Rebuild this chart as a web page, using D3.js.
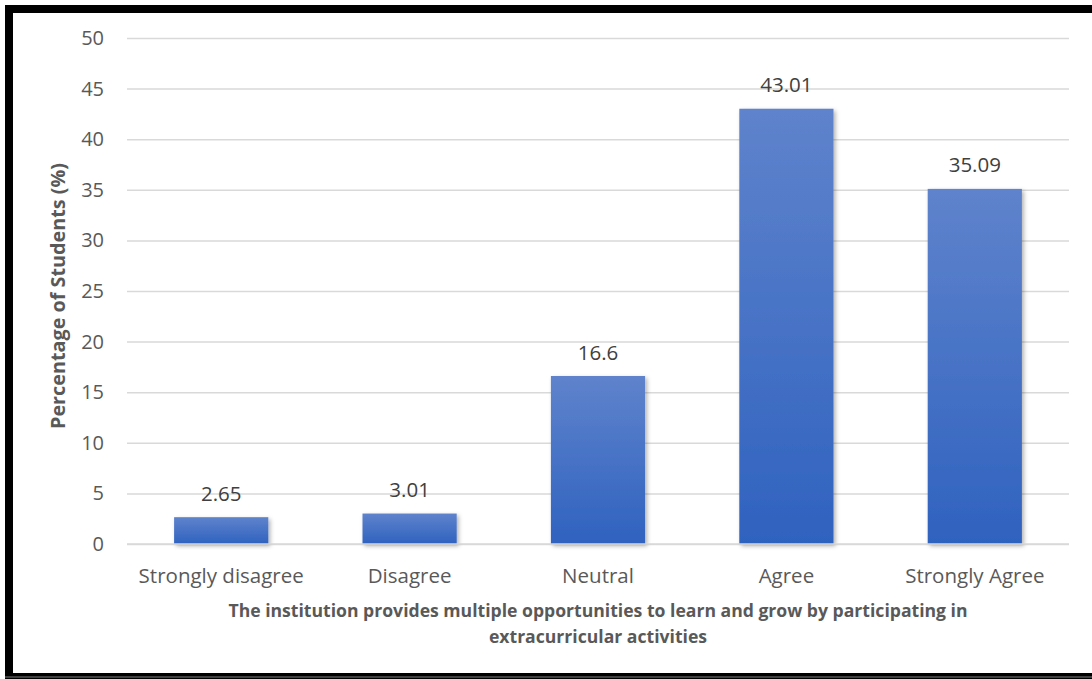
<!DOCTYPE html>
<html><head><meta charset="utf-8">
<script src="https://cdn.jsdelivr.net/npm/d3@7"></script>
<style>body{margin:0;background:#fff}svg{display:block}</style>
</head><body>
<svg id="c" width="1092" height="679"></svg>
<script>
const categories = ["Strongly disagree","Disagree","Neutral","Agree","Strongly Agree"];
const values = [2.65, 3.01, 16.6, 43.01, 35.09];
const valueLabels = ["2.65","3.01","16.6","43.01","35.09"];
const yTicks = [0,5,10,15,20,25,30,35,40,45,50];
const yTitle = "Percentage of Students (%)";
const xTitleLines = ["The institution provides multiple opportunities to learn and grow by participating in","extracurricular activities"];

const svg = d3.select("#c");
const font = "'Open Sans', sans-serif";
// frame
svg.append("rect").attr("x",0).attr("y",0).attr("width",1092).attr("height",679).attr("fill","#fff");
svg.append("rect").attr("x",9).attr("y",9).attr("width",1100).attr("height",668)
  .attr("fill","none").attr("stroke","#000").attr("stroke-width",8);
svg.append("line").attr("x1",5).attr("x2",1092).attr("y1",677).attr("y2",677).attr("stroke","#404040").attr("stroke-width",2);

const m = {l:127, r:1069, t:38, b:544};
const x = d3.scaleBand().domain(categories).range([m.l,m.r]).paddingInner(0.5).paddingOuter(0.25);
const y = d3.scaleLinear().domain([0,50]).range([m.b,m.t]);

const defs = svg.append("defs");
const g = defs.append("linearGradient").attr("id","bg").attr("x1",0).attr("y1",0).attr("x2",0).attr("y2",1);
g.append("stop").attr("offset","0%").attr("stop-color","#5f83cc");
g.append("stop").attr("offset","100%").attr("stop-color","#2f62bf");
const f = defs.append("filter").attr("id","sh").attr("x","-20%").attr("y","-20%").attr("width","140%").attr("height","140%");
f.append("feDropShadow").attr("dx",2).attr("dy",2).attr("stdDeviation",2).attr("flood-color","#000").attr("flood-opacity",0.3);

// gridlines
const yAxis = d3.axisLeft(y).tickValues(yTicks).tickSize(-(m.r-m.l)).tickPadding(23);
const ya = svg.append("g").attr("transform",`translate(${m.l},0)`).call(yAxis);
ya.select(".domain").remove();
ya.selectAll(".tick line").attr("stroke","#d9d9d9").attr("stroke-width",1.5);
ya.selectAll(".tick text").attr("font-family",font).attr("font-size",20).attr("fill","#595959");

// bars
svg.append("g").selectAll("rect").data(values).join("rect")
  .attr("x",(d,i)=>x(categories[i])).attr("width",x.bandwidth())
  .attr("y",d=>y(d)).attr("height",d=>y(0)-y(d))
  .attr("fill","url(#bg)").attr("filter","url(#sh)");

// baseline
svg.append("line").attr("x1",m.l).attr("x2",m.r).attr("y1",y(0)).attr("y2",y(0)).attr("stroke","#d9d9d9").attr("stroke-width",1.5);

// value labels
svg.append("g").selectAll("text").data(values).join("text")
  .attr("x",(d,i)=>x(categories[i])+x.bandwidth()/2).attr("y",d=>y(d)-16.5)
  .attr("text-anchor","middle").attr("font-family",font).attr("font-size",20.5).attr("fill","#404040")
  .text((d,i)=>valueLabels[i]);

// x axis labels
const xAxis = d3.axisBottom(x).tickSize(0).tickPadding(24);
const xa = svg.append("g").attr("transform",`translate(0,${m.b})`).call(xAxis);
xa.select(".domain").remove();
xa.selectAll(".tick text").attr("font-family",font).attr("font-size",20.5).attr("fill","#595959");

// x title
svg.append("g").selectAll("text").data(xTitleLines).join("text")
  .attr("x",(m.l+m.r)/2).attr("y",(d,i)=>617+i*26).attr("text-anchor","middle")
  .attr("font-family",font).attr("font-size",17.6).attr("font-weight","bold").attr("fill","#595959").text(d=>d);

// y title
svg.append("text").attr("transform",`translate(65,296) rotate(-90)`)
  .attr("text-anchor","middle").attr("font-family",font).attr("font-size",19.8).attr("font-weight","bold").attr("fill","#595959").text(yTitle);
</script>
</body></html>
